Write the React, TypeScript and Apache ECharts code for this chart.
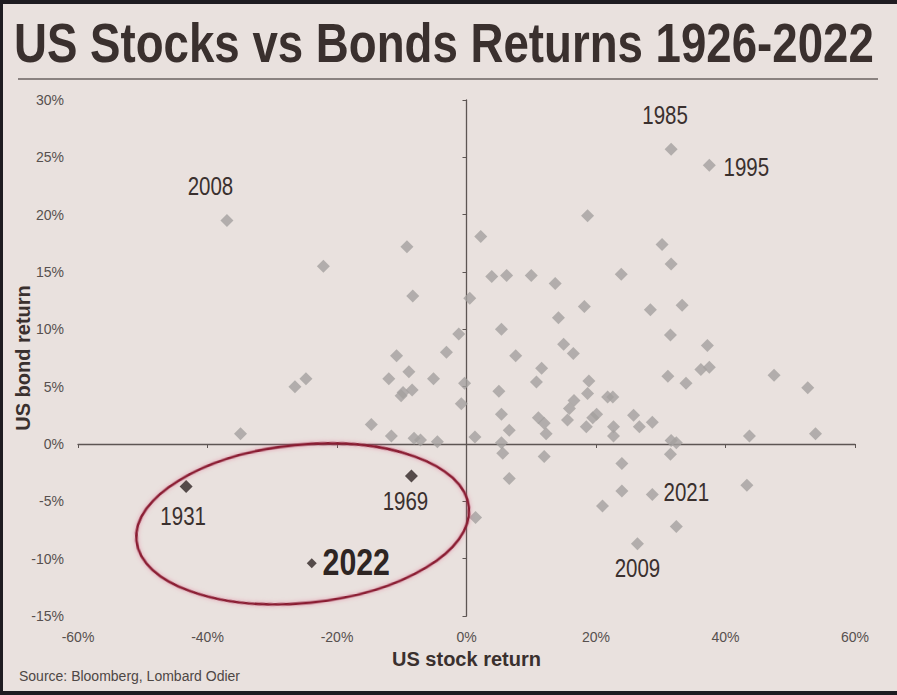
import React, { useEffect, useRef } from "react";
import * as echarts from "echarts";

// ---- Data (US stock return %, US bond return %) ----
const stockReturns: number[] = [
  18.7, 2.2, 30.2, 31.6, 3.9, 6.2, 10.0, 13.7, 23.9, 0.5, 18.2, 28.4, 33.3, 14.2,
  5.4, 15.0, 16.5, 7.6, 11.6, 10.8, 18.9, -0.3, 18.7, 5.0, 21.8, 22.6, 16.6, 15.9,
  -0.8, 5.4, 11.1, 12.0, 15.6, 20.1, 19.5, 18.5, 25.8, 26.7, 28.7, 22.7, 22.7, 6.6,
  12.3, 1.3, 5.4, 5.6, 12.0,
  6.6, 24.0, 31.5, 24.0, 21.0, 43.3, 1.4, 32.4,
  31.5, 37.2, 36.2, 37.5, 31.1, 33.9, 47.5, 52.7, 31.6, 32.4, 43.7, 53.9,
  -22.1, -9.2, -8.3,
  -1.2, -3.1, -10.8, -8.9, -12.0, -5.1, -8.4, -9.8, -10.1, -24.8, -26.5, -14.7,
  -11.6, -8.1, -7.1, -4.5, -34.9,
];
const bondReturns: number[] = [
  19.9, 18.1, 17.4, 15.7, 14.6, 14.7, 14.7, 14.0, 14.8, 12.7, 12.0, 11.7, 12.1, 11.0,
  10.0, 8.7, 7.9, 7.7, 6.6, 5.4, 5.5, 5.3, 4.4, 4.6, 4.1, 4.1, 3.8, 3.1,
  3.5, 2.6, 2.3, 1.8, 2.1, 2.6, 2.3, 1.5, 2.5, 1.5, 1.9, 1.5, 0.7, 1.2,
  0.9, 0.6, 0.1, -0.8, -1.1,
  -3.0, -1.7, -0.9, -4.1, -5.4, -3.6, -6.4, -7.2,
  9.5, 8.6, 6.5, 6.7, 5.9, 5.3, 6.0, 4.9, 0.3, 0.1, 0.7, 0.9,
  15.5, 17.2, 12.9,
  9.6, 8.0, 7.7, 6.3, 5.7, 5.7, 4.7, 4.5, 4.2, 5.7, 5.0, 1.7,
  0.7, 0.5, 0.35, 0.2, 0.9,
];

const labeledYears: string[] = ["1985", "1995", "2008", "2009", "2021"];
const labeledStock: number[] = [31.6, 37.5, -37.0, 26.4, 28.7];
const labeledBond: number[] = [25.7, 24.3, 19.5, -8.7, -4.4];

const highlightYears: string[] = ["1931", "1969", "2022"];
const highlightStock: number[] = [-43.3, -8.5, -23.9];
const highlightBond: number[] = [-3.7, -2.8, -10.4];

const xRange = { min: -60, max: 60, step: 20 };
const yRange = { min: -15, max: 30, step: 5 };

const titleText = "US Stocks vs Bonds Returns 1926-2022";
const xName = "US stock return";
const yName = "US bond return";
const sourceText = "Source: Bloomberg, Lombard Odier";

// ---- Styles ----
const FONT = "'Liberation Sans', Arial, Helvetica, sans-serif";
const NARROW_SCALE = 0.82;
const BG = "#e9e1de";
const INK = "#3a302e";
const GRAY_PT = "#a4a09f";
const DARK_PT = "#2f2624";
const AXIS = "#5d5553";

const labelOffset: Record<string, [number, number]> = {
  "1985": [-6, -34],
  "1995": [37, 2],
  "2008": [-16.5, -34.5],
  "2009": [0, 24],
  "2021": [34, -2.5],
  "1931": [-3, 30],
  "1969": [-6, 25.5],
  "2022": [44.5, -1],
};

export default function App() {
  const ref = useRef<HTMLDivElement>(null);

  useEffect(() => {
    document.body.style.margin = "0";
    if (!ref.current) return;
    const chart = echarts.init(ref.current, undefined, { renderer: "svg" });

    const grayData = stockReturns.map((s, i) => [s, bondReturns[i]]);
    const labeledData = labeledYears.map((y, i) => ({
      name: y,
      value: [labeledStock[i], labeledBond[i]],
    }));
    const hiData = highlightYears.map((y, i) => ({
      name: y,
      value: [highlightStock[i], highlightBond[i]],
      symbolSize: y === "2022" ? 10 : 13,
    }));

    const baseAxis = {
      type: "value" as const,
      splitLine: { show: false },
    };
    const tickLabel = {
      show: true,
      margin: 14,
      formatter: "{value}%",
      fontFamily: FONT,
      fontSize: 14,
      color: "#57504e",
    };
    const nameStyle = { fontFamily: FONT, fontSize: 20, fontWeight: "bold", color: INK };

    chart.setOption({
      animation: false,
      backgroundColor: BG,
      textStyle: { fontFamily: FONT },
      grid: { left: 78, right: 42, top: 100, bottom: 79, containLabel: false, outerBoundsMode: "none" },
      xAxis: [
        {
          ...baseAxis,
          min: xRange.min,
          max: xRange.max,
          interval: xRange.step,
          axisLine: { onZero: true, lineStyle: { color: AXIS, width: 1.3 } },
          axisTick: { show: true, length: 4, lineStyle: { color: AXIS } },
          axisLabel: { show: false },
        },
        {
          ...baseAxis,
          position: "bottom",
          min: xRange.min,
          max: xRange.max,
          interval: xRange.step,
          axisLine: { show: false, onZero: false },
          axisTick: { show: false },
          axisLabel: tickLabel,
          name: xName,
          nameLocation: "middle",
          nameGap: 33,
          nameMoveOverlap: false,
          nameTextStyle: nameStyle,
        },
      ],
      yAxis: [
        {
          ...baseAxis,
          min: yRange.min,
          max: yRange.max,
          interval: yRange.step,
          axisLine: { onZero: true, lineStyle: { color: AXIS, width: 1.3 } },
          axisTick: { show: true, length: 4, lineStyle: { color: AXIS } },
          axisLabel: { show: false },
        },
        {
          ...baseAxis,
          position: "left",
          min: yRange.min,
          max: yRange.max,
          interval: yRange.step,
          axisLine: { show: false, onZero: false },
          axisTick: { show: false },
          axisLabel: tickLabel,
          name: yName,
          nameLocation: "middle",
          nameRotate: 90,
          nameGap: 45,
          nameMoveOverlap: false,
          nameTextStyle: nameStyle,
        },
      ],
      series: [
        {
          type: "scatter",
          xAxisIndex: 0,
          yAxisIndex: 0,
          symbol: "diamond",
          symbolSize: 13,
          itemStyle: { color: GRAY_PT },
          data: grayData,
          z: 3,
        },
        {
          type: "scatter",
          xAxisIndex: 0,
          yAxisIndex: 0,
          symbol: "diamond",
          symbolSize: 13,
          itemStyle: { color: GRAY_PT },
          data: labeledData,
          z: 3,
        },
        {
          type: "scatter",
          xAxisIndex: 0,
          yAxisIndex: 0,
          symbol: "diamond",
          symbolSize: 13,
          itemStyle: { color: DARK_PT },
          data: hiData,
          z: 4,
        },
      ],
    });

    const toPx = (v: number[]) =>
      chart.convertToPixel({ xAxisIndex: 0, yAxisIndex: 0 }, v) as number[];

    // Year annotations placed from the data points through the chart's scales
    const yearLabels: any[] = [];
    labeledYears.forEach((y, i) => {
      const p = toPx([labeledStock[i], labeledBond[i]]);
      const o = labelOffset[y];
      yearLabels.push({ year: y, x: p[0] + o[0], y: p[1] + o[1], size: 25, bold: false });
    });
    highlightYears.forEach((y, i) => {
      const p = toPx([highlightStock[i], highlightBond[i]]);
      const o = labelOffset[y];
      const big = y === "2022";
      yearLabels.push({ year: y, x: p[0] + o[0], y: p[1] + o[1], size: big ? 37 : 25, bold: big });
    });

    // Ellipse around the years where both stocks and bonds fell (data space)
    const ell = { cx: -25.3, cy: -6.97, rx: 25.8, ry: 6.9 };
    const c = toPx([ell.cx, ell.cy]);
    const ex = toPx([ell.cx + ell.rx, ell.cy]);
    const ey = toPx([ell.cx, ell.cy + ell.ry]);
    const rxPx = Math.abs(ex[0] - c[0]);
    const ryPx = Math.abs(ey[1] - c[1]);

    chart.setOption({
      graphic: [
        { type: "rect", left: 0, top: 0, shape: { width: 897, height: 4 }, style: { fill: "#1e1c21" }, z: 100 },
        { type: "rect", left: 0, top: 0, shape: { width: 3, height: 695 }, style: { fill: "#1e1c21" }, z: 100 },
        { type: "rect", left: 0, top: 691, shape: { width: 897, height: 4 }, style: { fill: "#1e1c21" }, z: 100 },
        {
          type: "text",
          x: 14,
          y: 43,
          scaleX: 0.815,
          style: {
            text: titleText,
            fontFamily: FONT,
            fontSize: 56,
            fontWeight: "bold",
            fill: INK,
            verticalAlign: "middle",
          },
        },
        {
          type: "line",
          shape: { x1: 18, y1: 79, x2: 878, y2: 79 },
          style: { stroke: "#6a6260", lineWidth: 1.5 },
        },
        {
          type: "text",
          x: 19,
          y: 676,
          style: {
            text: sourceText,
            fontFamily: FONT,
            fontSize: 14,
            fill: "#4e4745",
            verticalAlign: "middle",
          },
        },
        ...yearLabels.map((l) => ({
          type: "text",
          x: l.x,
          y: l.y,
          scaleX: NARROW_SCALE,
          z: 60,
          style: {
            text: l.year,
            fontFamily: FONT,
            fontSize: l.size,
            fontWeight: l.bold ? "bold" : "normal",
            fill: l.bold ? "#2e2523" : INK,
            align: "center",
            verticalAlign: "middle",
          },
        })),
        {
          type: "ellipse",
          x: c[0],
          y: c[1],
          rotation: 0.1,
          shape: { cx: 0, cy: 0, rx: rxPx, ry: ryPx },
          style: {
            fill: "none",
            stroke: "#8a1a31",
            lineWidth: 2.6,
            shadowColor: "rgba(225, 90, 130, 0.55)",
            shadowBlur: 4,
          },
          z: 50,
        },
      ],
    });

    return () => chart.dispose();
  }, []);

  return <div ref={ref} style={{ width: 897, height: 695 }} />;
}
